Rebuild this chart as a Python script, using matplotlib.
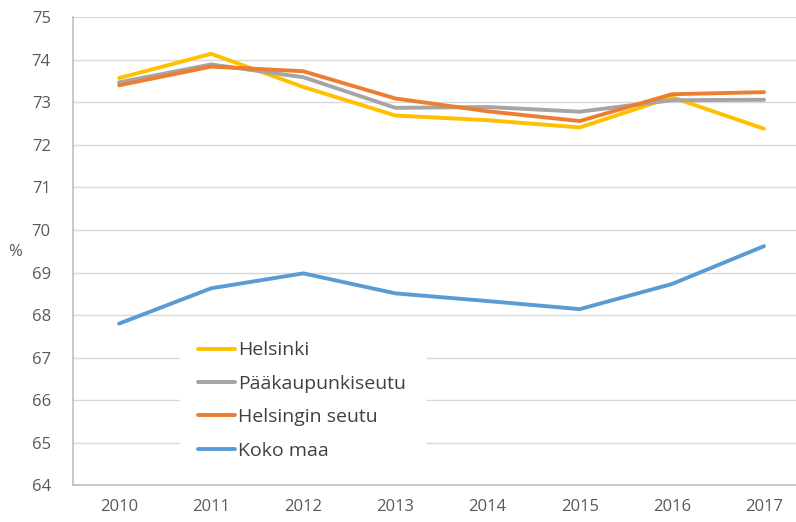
import matplotlib.pyplot as plt

# vuodet ja sarjat (%)
vuodet = ["2010", "2011", "2012", "2013", "2014", "2015", "2016", "2017"]
helsinki = [73.57, 74.14, 73.36, 72.69, 72.58, 72.41, 73.12, 72.38]
paakaupunkiseutu = [73.47, 73.89, 73.59, 72.87, 72.89, 72.78, 73.05, 73.06]
helsingin_seutu = [73.40, 73.84, 73.73, 73.09, 72.79, 72.56, 73.19, 73.24]
koko_maa = [67.80, 68.63, 68.98, 68.51, 68.33, 68.14, 68.73, 69.62]

nimet = ["Helsinki", "Pääkaupunkiseutu", "Helsingin seutu", "Koko maa"]
varit = ["#FFC000", "#A5A5A5", "#ED7D31", "#5B9BD5"]

plt.rcParams['font.family'] = ['Open Sans', 'DejaVu Sans']

fig = plt.figure(figsize=(7.96, 5.22), dpi=100)
ax = fig.add_axes([0.0917, 0.0703, 0.926, 0.8967])

x = range(len(vuodet))
for sarja, nimi, vari in zip([helsinki, paakaupunkiseutu, helsingin_seutu, koko_maa], nimet, varit):
    ax.plot(x, sarja, color=vari, lw=2.8, label=nimi, solid_capstyle="round", solid_joinstyle="round")

ax.set_xlim(-0.5, len(vuodet) - 0.5)
ax.set_ylim(64, 75)
ax.set_yticks(range(64, 76))
ax.set_xticks(list(x))
ax.set_xticklabels(vuodet)
ax.grid(axis="y", color="#D9D9D9", lw=1)
ax.set_axisbelow(True)
ax.tick_params(length=0, labelsize=12, colors="#595959", pad=10)
ax.tick_params(axis="y", pad=16)
for s in ["top", "right"]:
    ax.spines[s].set_visible(False)
for s in ["left", "bottom"]:
    ax.spines[s].set_color("#BFBFBF")
    ax.spines[s].set_linewidth(1.2)

fig.text(15 / 796, 1 - 252 / 522, "%", fontsize=12, color="#595959", ha="center", va="center")

leg = ax.legend(loc="upper left", bbox_to_anchor=(180 / 796, 1 - 323 / 522), bbox_transform=fig.transFigure,
                frameon=True, fontsize=14, handlelength=1.9, handletextpad=0.15,
                labelspacing=0.79, borderpad=0.95, borderaxespad=0)
leg.get_frame().set_facecolor("white")
leg.get_frame().set_edgecolor("white")
leg.get_frame().set_alpha(1)
leg.get_frame().set_boxstyle("square", pad=0)
for t in leg.get_texts():
    t.set_color("#404040")

fig.savefig("out.png", dpi=100)
